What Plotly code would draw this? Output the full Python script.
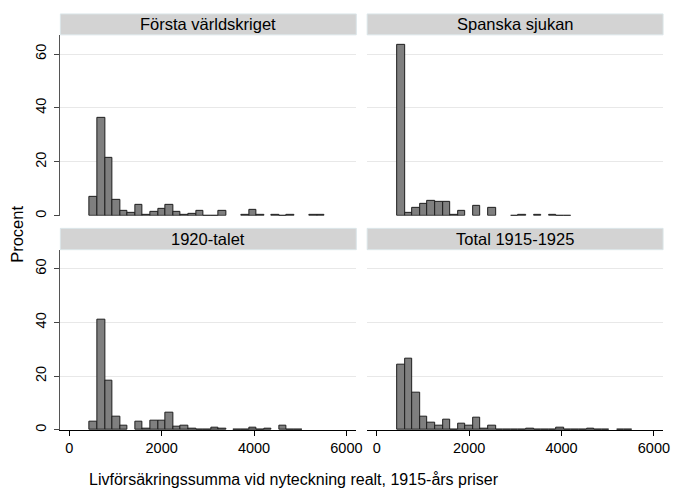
import plotly.graph_objects as go

# ---- data ----
panel_titles = ["Första världskriget", "Spanska sjukan", "1920-talet", "Total 1915-1925"]
bin_left = [445, 609, 773, 937, 1101, 1265, 1429, 1593, 1757, 1921, 2085, 2249, 2413,
            2577, 2741, 2905, 3069, 3233, 3397, 3561, 3725, 3889, 4053, 4217, 4381,
            4545, 4709, 4873, 5037, 5201, 5365]
bin_width = 164

pct_forsta = [7.2, 36.3, 21.5, 5.9, 1.85, 1.2, 4.2, 0.4, 1.6, 2.6, 4.2, 1.5, 0.4, 0.9, 1.9,
              0.1, 0.1, 2.0, None, None, 0.3, 2.3, 0.3, None, 0.3, 0.1, 0.3, None, None,
              0.2, 0.2]
pct_spanska = [63.3, 1.1, 3.0, 4.6, 5.6, 5.2, 5.2, 0.2, 1.9, None, 3.7, None, 2.8, None,
               None, 0.1, 0.2, None, 0.3, None, 0.2, 0.1, 0.1, None, None, None, None,
               None, None, None, None]
pct_1920 = [2.9, 41.2, 18.3, 4.8, 1.7, None, 3.2, 0.6, 3.6, 3.4, 6.6, 1.1, 1.7, 0.6, 0.1,
            0.1, 0.7, 0.3, None, 0.2, 0.2, 1.0, 0.1, 0.5, None, 1.7, 0.1, 0.1, None, None,
            None]
pct_total = [24.2, 26.6, 13.9, 5.0, 2.7, 1.6, 4.0, 0.25, 2.5, 1.7, 4.7, 0.6, 1.6, 0.25,
             0.1, 0.1, 0.1, 0.4, 0.1, 0.1, 0.1, 1.0, 0.2, 0.1, 0.2, 0.5, 0.2, 0.2, None,
             0.2, 0.2]
series = [pct_forsta, pct_spanska, pct_1920, pct_total]

y_ticks = [0, 20, 40, 60]
x_ticks = [0, 2000, 4000, 6000]
y_title = "Procent"
x_title = "Livförsäkringssumma vid nyteckning realt, 1915-års priser"

# ---- layout geometry (pixels) ----
W, H = 677, 492
FONT = "Liberation Sans, Arial, sans-serif"
cols = [(61, 360), (371, 670)]
rows = [(35, 216.7), (250.7, 431.7)]          # plot area top/bottom
strips = [(14, 35), (229.3, 250.7)]
xranges = [(-192.9, 6214), (-207.9, 6199)]
yrange = (0, 67.1)

def px(x):
    return x / W

def py(y):
    return 1 - y / H

fig = go.Figure()
shapes = []
annotations = []
centers = [b + bin_width / 2 for b in bin_left]

for k in range(4):
    r, c = divmod(k, 2)
    idx = "" if k == 0 else str(k + 1)
    xa, ya = "xaxis" + idx, "yaxis" + idx
    fig.add_trace(go.Bar(
        x=centers, y=series[k], width=bin_width,
        marker=dict(color="#7f7f7f", line=dict(color="#1e1e1e", width=1)),
        xaxis="x" + idx, yaxis="y" + idx, showlegend=False, hoverinfo="x+y"))
    x0, x1 = cols[c]
    t, b = rows[r]
    bottom = (r == 1)
    left = (c == 0)
    fig.layout[xa] = dict(
        domain=[px(x0), px(x1)], range=list(xranges[c]), anchor="y" + idx,
        tickvals=x_ticks, showticklabels=bottom, ticks="outside" if bottom else "",
        ticklen=5, tickcolor="#000000", showline=bottom, linecolor="#000000",
        linewidth=1, showgrid=False, zeroline=False,
        tickfont=dict(family=FONT, size=14.5, color="#000000"))
    fig.layout[ya] = dict(
        domain=[py(b), py(t)], range=list(yrange), anchor="x" + idx,
        tickvals=y_ticks, showticklabels=left, ticks="outside" if left else "",
        ticklen=5, tickcolor="#444444", showline=left, linecolor="#555555",
        linewidth=1, showgrid=True, gridcolor="#e8e8e8", gridwidth=1,
        zeroline=False, tickangle=-90, ticklabelstandoff=3,
        tickfont=dict(family=FONT, size=14.5, color="#000000"))
    st, sb = strips[r]
    shapes.append(dict(type="rect", xref="paper", yref="paper",
                       x0=px(x0), x1=px(x1), y0=py(sb), y1=py(st),
                       fillcolor="#d3d3d3", line=dict(color="#dbe6e9", width=1),
                       layer="below"))
    annotations.append(dict(text=panel_titles[k], xref="paper", yref="paper",
                            x=px((x0 + x1) / 2), y=py((st + sb) / 2),
                            xanchor="center", yanchor="middle", showarrow=False,
                            font=dict(family=FONT, size=16.5, color="#000000")))

annotations.append(dict(text=y_title, xref="paper", yref="paper", x=px(17), y=py(235),
                        xanchor="center", yanchor="middle", textangle=-90,
                        showarrow=False, font=dict(family=FONT, size=16.5, color="#000000")))
annotations.append(dict(text=x_title, xref="paper", yref="paper", x=px(297.5), y=py(481),
                        xanchor="center", yanchor="middle", showarrow=False,
                        font=dict(family=FONT, size=16, color="#000000")))

fig.update_layout(width=W, height=H, margin=dict(l=0, r=0, t=0, b=0),
                  paper_bgcolor="#ffffff", plot_bgcolor="#ffffff",
                  shapes=shapes, annotations=annotations, bargap=0,
                  font=dict(family=FONT))
fig.write_html("out.html")
